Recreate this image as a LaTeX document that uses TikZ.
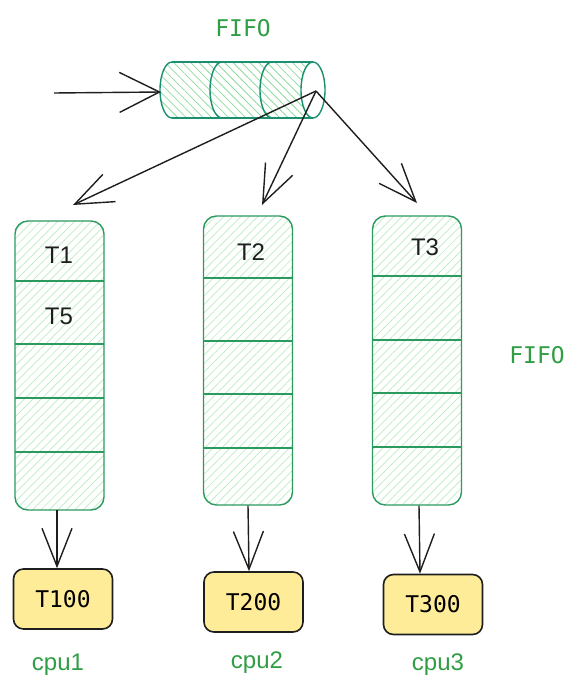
\documentclass[tikz,border=0pt]{standalone}
\usepackage{fontspec}
\setmainfont{Liberation Sans}
\newfontfamily\monof{DejaVu Sans Mono}
\usetikzlibrary{arrows.meta,patterns.meta}
\definecolor{gtext}{HTML}{2F9E44}
\definecolor{gline}{HTML}{2B9A5E}
\definecolor{tline}{HTML}{1A9070}
\definecolor{hatch}{HTML}{B9EBC0}
\definecolor{hatchdk}{HTML}{8FDB9C}
\definecolor{yel}{HTML}{FFEC99}
\definecolor{ink}{HTML}{1E1E1E}
\tikzset{
  queue/.style={draw=gline, line width=1.4pt, rounded corners=13pt,
    pattern={Lines[angle=45,distance=6pt,line width=0.7pt]}, pattern color=hatch,
    minimum width=89pt, minimum height=289pt, inner sep=0pt},
  qline/.style={draw=gline, line width=1.5pt},
  task/.style={draw=ink, line width=1.6pt, fill=yel, rounded corners=10pt,
    minimum width=99pt, minimum height=60pt, inner sep=0pt, font=\monof\fontsize{23}{27}\selectfont},
  lbl/.style={text=gtext, font=\monof\fontsize{23}{27}\selectfont},
  cpul/.style={text=gtext, font=\fontsize{24}{28}\selectfont},
  tk/.style={text=ink, font=\fontsize{24}{28}\selectfont},
  arr/.style={draw=ink, line width=1.4pt, -{Straight Barb[length=38pt,width=30pt,line width=1.4pt]}},
  bigarr/.style={draw=ink, line width=1.4pt, -{Straight Barb[length=40pt,width=40pt,line width=1.4pt]}},
  cyl/.style={draw=tline, line width=1.4pt},
}
\begin{document}
\begin{tikzpicture}[x=1pt,y=-1pt]
\useasboundingbox (0,0) rectangle (579,695);
% FIFO cylinder
\fill[pattern={Lines[angle=-45,distance=6pt,line width=0.8pt]}, pattern color=hatchdk]
  (172,62) -- (313,62) .. controls (319.6,62) and (325,74.5) .. (325,90)
  .. controls (325,105.5) and (319.6,118) .. (313,118) -- (172,118)
  .. controls (165.4,118) and (160,105.5) .. (160,90)
  .. controls (160,74.5) and (165.4,62) .. (172,62) -- cycle;
\draw[cyl] (172,62) -- (313,62) (172,118) -- (313,118);
\foreach \cx in {172,222,272}
  \draw[cyl] (\cx,62) .. controls (\cx-6.6,62) and (\cx-12,74.5) .. (\cx-12,90)
    .. controls (\cx-12,105.5) and (\cx-6.6,118) .. (\cx,118);
\draw[cyl, fill=white] (313,62) .. controls (319.6,62) and (325,74.5) .. (325,90)
  .. controls (325,105.5) and (319.6,118) .. (313,118)
  .. controls (306.4,118) and (301,105.5) .. (301,90)
  .. controls (301,74.5) and (306.4,62) .. (313,62) -- cycle;
\coordinate (fin) at (161,92);
\coordinate (fout) at (316,91);
\coordinate (src) at (54,93);
\node[lbl] (fifotop) at (243,28) {FIFO};
\draw[bigarr] (src) -- (fin);

% queues
\node[queue] (q1) at (59.5,365.5) {};
\node[queue] (q2) at (248,360.5) {};
\node[queue] (q3) at (417,360.5) {};
\foreach \y in {281,344,398,452} \draw[qline] (q1.west |- 0,\y) -- (q1.east |- 0,\y);
\foreach \y in {278,341,394,448} \draw[qline] (q2.west |- 0,\y) -- (q2.east |- 0,\y);
\foreach \y in {276,340,393,447} \draw[qline] (q3.west |- 0,\y) -- (q3.east |- 0,\y);
\node[tk] (t1) at (59,255) {T1};
\node[tk] (t5) at (59,316) {T5};
\node[tk] (t2) at (251,252) {T2};
\node[tk] (t3) at (425,247) {T3};
\node[lbl] (fifoside) at (537,355) {FIFO};

\coordinate (a1) at (73,205);
\coordinate (a2) at (262,205);
\coordinate (a3) at (417,203);
\draw[arr] (fout) -- (a1);
\draw[arr] (fout) -- (a2);
\draw[arr] (fout) -- (a3);

% tasks
\node[task] (k1) at (63,599) {T100};
\node[task] (k2) at (253.5,602) {T200};
\node[task] (k3) at (433,604.5) {T300};
\draw[arr] (q1.south -| 57,0) -- (k1.north -| 57,0);
\draw[arr] (q2.south -| 248,0) -- (k2.north -| 249,0);
\draw[arr] (q3.south -| 419,0) -- (k3.north -| 420,0);

\node[cpul] (c1) at (58,665) {cpu1};
\node[cpul] (c2) at (257,663) {cpu2};
\node[cpul] (c3) at (438,665) {cpu3};
\end{tikzpicture}
\end{document}
